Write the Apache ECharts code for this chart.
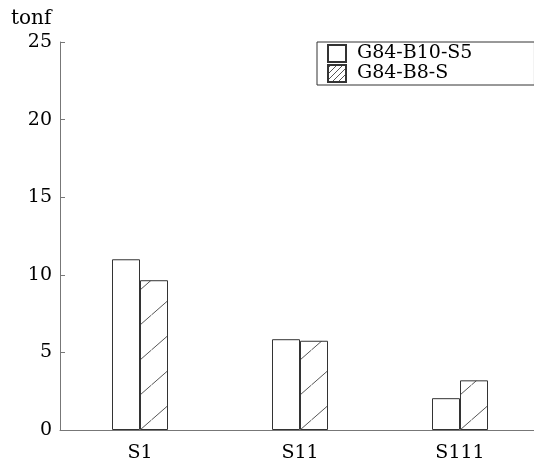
<!DOCTYPE html>
<html>
<head>
<meta charset="utf-8">
<script src="https://cdn.jsdelivr.net/npm/echarts@6/dist/echarts.min.js"></script>
<style>html,body{margin:0;padding:0;background:#fff;}#c{width:534px;height:464px;}</style>
</head>
<body>
<div id="c"></div>
<script>
const categories = ['S1', 'S11', 'S111'];
const seriesNames = ['G84-B10-S5', 'G84-B8-S'];
const valuesA = [11.0, 5.85, 2.05];
const valuesB = [9.65, 5.75, 3.2];
const yTicks = { min: 0, max: 25, interval: 5 };
const yUnit = 'tonf';

function hatch(w, h, phase, color) {
  const c = document.createElement('canvas');
  c.width = w; c.height = h;
  const g = c.getContext('2d');
  g.strokeStyle = color; g.lineWidth = 1;
  for (let k = -1; k <= 2; k++) {
    const x0 = phase + k * w;
    g.beginPath();
    g.moveTo(x0, 0);
    g.lineTo(x0 - w, h);
    g.stroke();
  }
  return c;
}
const barHatch = hatch(40, 35, 31.43, '#555');
const legendHatch = hatch(6, 6, 3, '#555');

const font = 'DejaVu Serif';
const chart = echarts.init(document.getElementById('c'));
chart.setOption({
  animation: false,
  backgroundColor: '#fff',
  grid: { left: 60, top: 42, width: 480, height: 388, outerBoundsMode: 'none', containLabel: false },
  graphic: [{
    type: 'text', left: 11, top: 9,
    style: { text: yUnit, font: '20px "' + font + '"', fill: '#000' }
  }],
  legend: {
    left: 317, top: 42, orient: 'vertical',
    itemWidth: 18, itemHeight: 17, itemGap: 1,
    padding: [2, 62, 2, 10],
    borderColor: '#333', borderWidth: 1,
    textStyle: { fontFamily: font, fontSize: 19, color: '#000', padding: [0, 0, 0, 6] },
    data: [
      { name: seriesNames[0], icon: 'rect' },
      { name: seriesNames[1], icon: 'rect', itemStyle: { color: { image: legendHatch, repeat: 'repeat' } } }
    ]
  },
  xAxis: {
    type: 'category', data: categories,
    axisLine: { lineStyle: { color: '#777', width: 1 } },
    axisTick: { inside: true, length: 4, lineStyle: { color: '#777' } },
    axisLabel: { fontFamily: font, fontSize: 19, color: '#000', margin: 14 }
  },
  yAxis: {
    type: 'value', min: yTicks.min, max: yTicks.max, interval: yTicks.interval,
    splitLine: { show: false },
    axisLine: { show: true, lineStyle: { color: '#777', width: 1 } },
    axisTick: { show: true, inside: true, length: 5, lineStyle: { color: '#777' } },
    axisLabel: { fontFamily: font, fontSize: 19, color: '#000', margin: 8, padding: [8, 0, 0, 0] }
  },
  series: [
    {
      name: seriesNames[0], type: 'bar', data: valuesA, barWidth: 28, barGap: '0%',
      itemStyle: { color: '#fff', borderColor: '#333', borderWidth: 1 }
    },
    {
      name: seriesNames[1], type: 'bar', data: valuesB, barWidth: 28, barGap: '0%',
      itemStyle: { color: { image: barHatch, repeat: 'repeat' }, borderColor: '#333', borderWidth: 1 }
    }
  ]
});
</script>
</body>
</html>
